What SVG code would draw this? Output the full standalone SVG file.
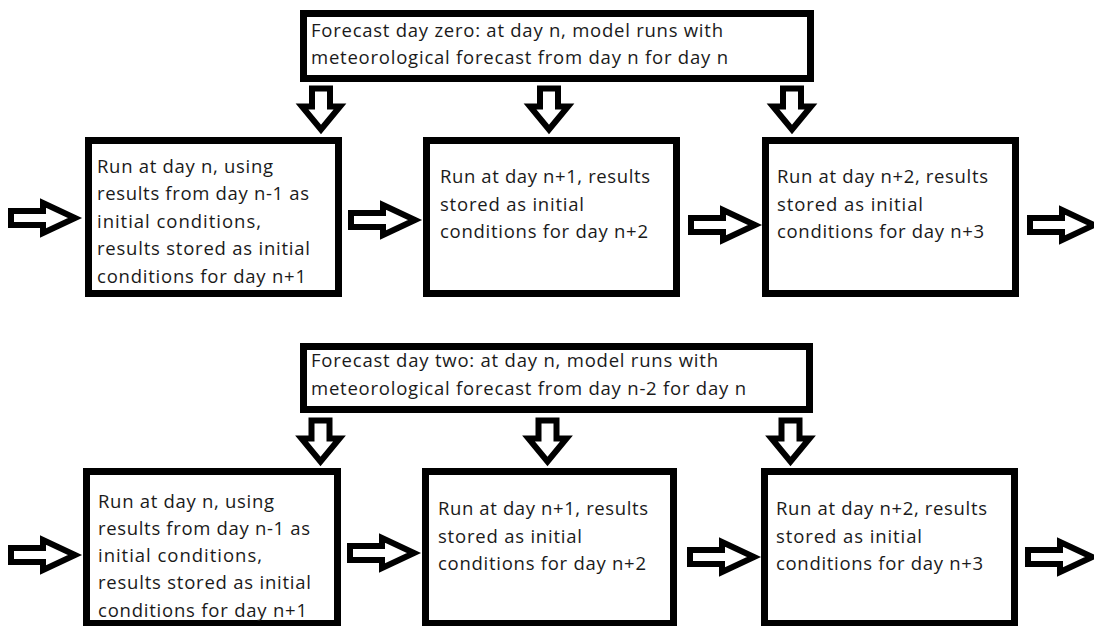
<svg xmlns="http://www.w3.org/2000/svg" width="1094" height="626" viewBox="0 0 1094 626">
  <style>
    .box { fill: #ffffff; stroke: #000000; stroke-width: 7; }
    .arrow { fill: #ffffff; stroke: #000000; stroke-width: 6; stroke-linejoin: miter; stroke-miterlimit: 6; }
    .label { font-family: "Open Sans", "Noto Sans", sans-serif; font-size: 18.5px; fill: #1a1a1a; }
  </style>
  <defs>
    <!-- block arrow pointing down, origin at top centre of the shaft -->
    <path id="arrow-down" d="M-9,0 H9 V18 H19 L0,41 L-19,18 H-9 Z"/>
    <!-- block arrow pointing right, origin at middle of the tail -->
    <path id="arrow-right" d="M0,-7 H32 V-15 L64,0 L32,15 V7 H0 Z"/>
  </defs>
  <rect width="1094" height="626" fill="#ffffff"/>

  <!-- connectors -->
  <g id="connectors">
    <!-- scenario: forecast day zero -->
    <use href="#arrow-down" class="arrow" x="321" y="88.5"/>
    <use href="#arrow-down" class="arrow" x="549" y="88.5"/>
    <use href="#arrow-down" class="arrow" x="792" y="88.5"/>
    <use href="#arrow-right" class="arrow" x="11" y="218"/>
    <use href="#arrow-right" class="arrow" x="351" y="220"/>
    <use href="#arrow-right" class="arrow" x="691" y="225"/>
    <use href="#arrow-right" class="arrow" x="1030" y="225"/>
    <!-- scenario: forecast day two -->
    <use href="#arrow-down" class="arrow" x="320.5" y="420.5"/>
    <use href="#arrow-down" class="arrow" x="547.5" y="420.5"/>
    <use href="#arrow-down" class="arrow" x="790.5" y="420.5"/>
    <use href="#arrow-right" class="arrow" x="11" y="555"/>
    <use href="#arrow-right" class="arrow" x="350" y="553"/>
    <use href="#arrow-right" class="arrow" x="690" y="557"/>
    <use href="#arrow-right" class="arrow" x="1028" y="557"/>
  </g>

  <!-- forecast day zero -->
  <g id="forecast-zero">
    <rect class="box" x="303.5" y="13.5" width="507" height="65"/>
    <text class="label" x="311" y="37" textLength="412" lengthAdjust="spacing">Forecast day zero: at day n, model runs with</text>
    <text class="label" x="311" y="64" textLength="417" lengthAdjust="spacing">meteorological forecast from day n for day n</text>
  </g>

  <g id="zero-run-n">
    <rect class="box" x="88.5" y="140.5" width="250" height="153"/>
    <text class="label" x="97" y="173" textLength="176" lengthAdjust="spacing">Run at day n, using</text>
    <text class="label" x="97" y="200" textLength="212" lengthAdjust="spacing">results from day n-1 as</text>
    <text class="label" x="97" y="228" textLength="164" lengthAdjust="spacing">initial conditions,</text>
    <text class="label" x="97" y="255" textLength="213" lengthAdjust="spacing">results stored as initial</text>
    <text class="label" x="97" y="283" textLength="209" lengthAdjust="spacing">conditions for day n+1</text>
  </g>

  <g id="zero-run-n1">
    <rect class="box" x="426.5" y="140.5" width="250" height="153"/>
    <text class="label" x="440" y="183" textLength="210" lengthAdjust="spacing">Run at day n+1, results</text>
    <text class="label" x="440" y="211" textLength="144" lengthAdjust="spacing">stored as initial</text>
    <text class="label" x="440" y="238" textLength="208" lengthAdjust="spacing">conditions for day n+2</text>
  </g>

  <g id="zero-run-n2">
    <rect class="box" x="765.5" y="140.5" width="250" height="153"/>
    <text class="label" x="777" y="183" textLength="211" lengthAdjust="spacing">Run at day n+2, results</text>
    <text class="label" x="777" y="211" textLength="146" lengthAdjust="spacing">stored as initial</text>
    <text class="label" x="777" y="238" textLength="207" lengthAdjust="spacing">conditions for day n+3</text>
  </g>

  <!-- forecast day two -->
  <g id="forecast-two">
    <rect class="box" x="303.5" y="346.5" width="506" height="63"/>
    <text class="label" x="311" y="367" textLength="407" lengthAdjust="spacing">Forecast day two: at day n, model runs with</text>
    <text class="label" x="311" y="395" textLength="435" lengthAdjust="spacing">meteorological forecast from day n-2 for day n</text>
  </g>

  <g id="two-run-n">
    <rect class="box" x="86.5" y="471.5" width="251" height="152"/>
    <text class="label" x="98" y="508" textLength="176" lengthAdjust="spacing">Run at day n, using</text>
    <text class="label" x="98" y="535" textLength="212" lengthAdjust="spacing">results from day n-1 as</text>
    <text class="label" x="98" y="562" textLength="164" lengthAdjust="spacing">initial conditions,</text>
    <text class="label" x="98" y="589" textLength="213" lengthAdjust="spacing">results stored as initial</text>
    <text class="label" x="98" y="617" textLength="209" lengthAdjust="spacing">conditions for day n+1</text>
  </g>

  <g id="two-run-n1">
    <rect class="box" x="425.5" y="471.5" width="248" height="152"/>
    <text class="label" x="438" y="515" textLength="210" lengthAdjust="spacing">Run at day n+1, results</text>
    <text class="label" x="438" y="543" textLength="144" lengthAdjust="spacing">stored as initial</text>
    <text class="label" x="438" y="570" textLength="208" lengthAdjust="spacing">conditions for day n+2</text>
  </g>

  <g id="two-run-n2">
    <rect class="box" x="764.5" y="471.5" width="250" height="152"/>
    <text class="label" x="776" y="515" textLength="211" lengthAdjust="spacing">Run at day n+2, results</text>
    <text class="label" x="776" y="543" textLength="146" lengthAdjust="spacing">stored as initial</text>
    <text class="label" x="776" y="570" textLength="207" lengthAdjust="spacing">conditions for day n+3</text>
  </g>
</svg>
